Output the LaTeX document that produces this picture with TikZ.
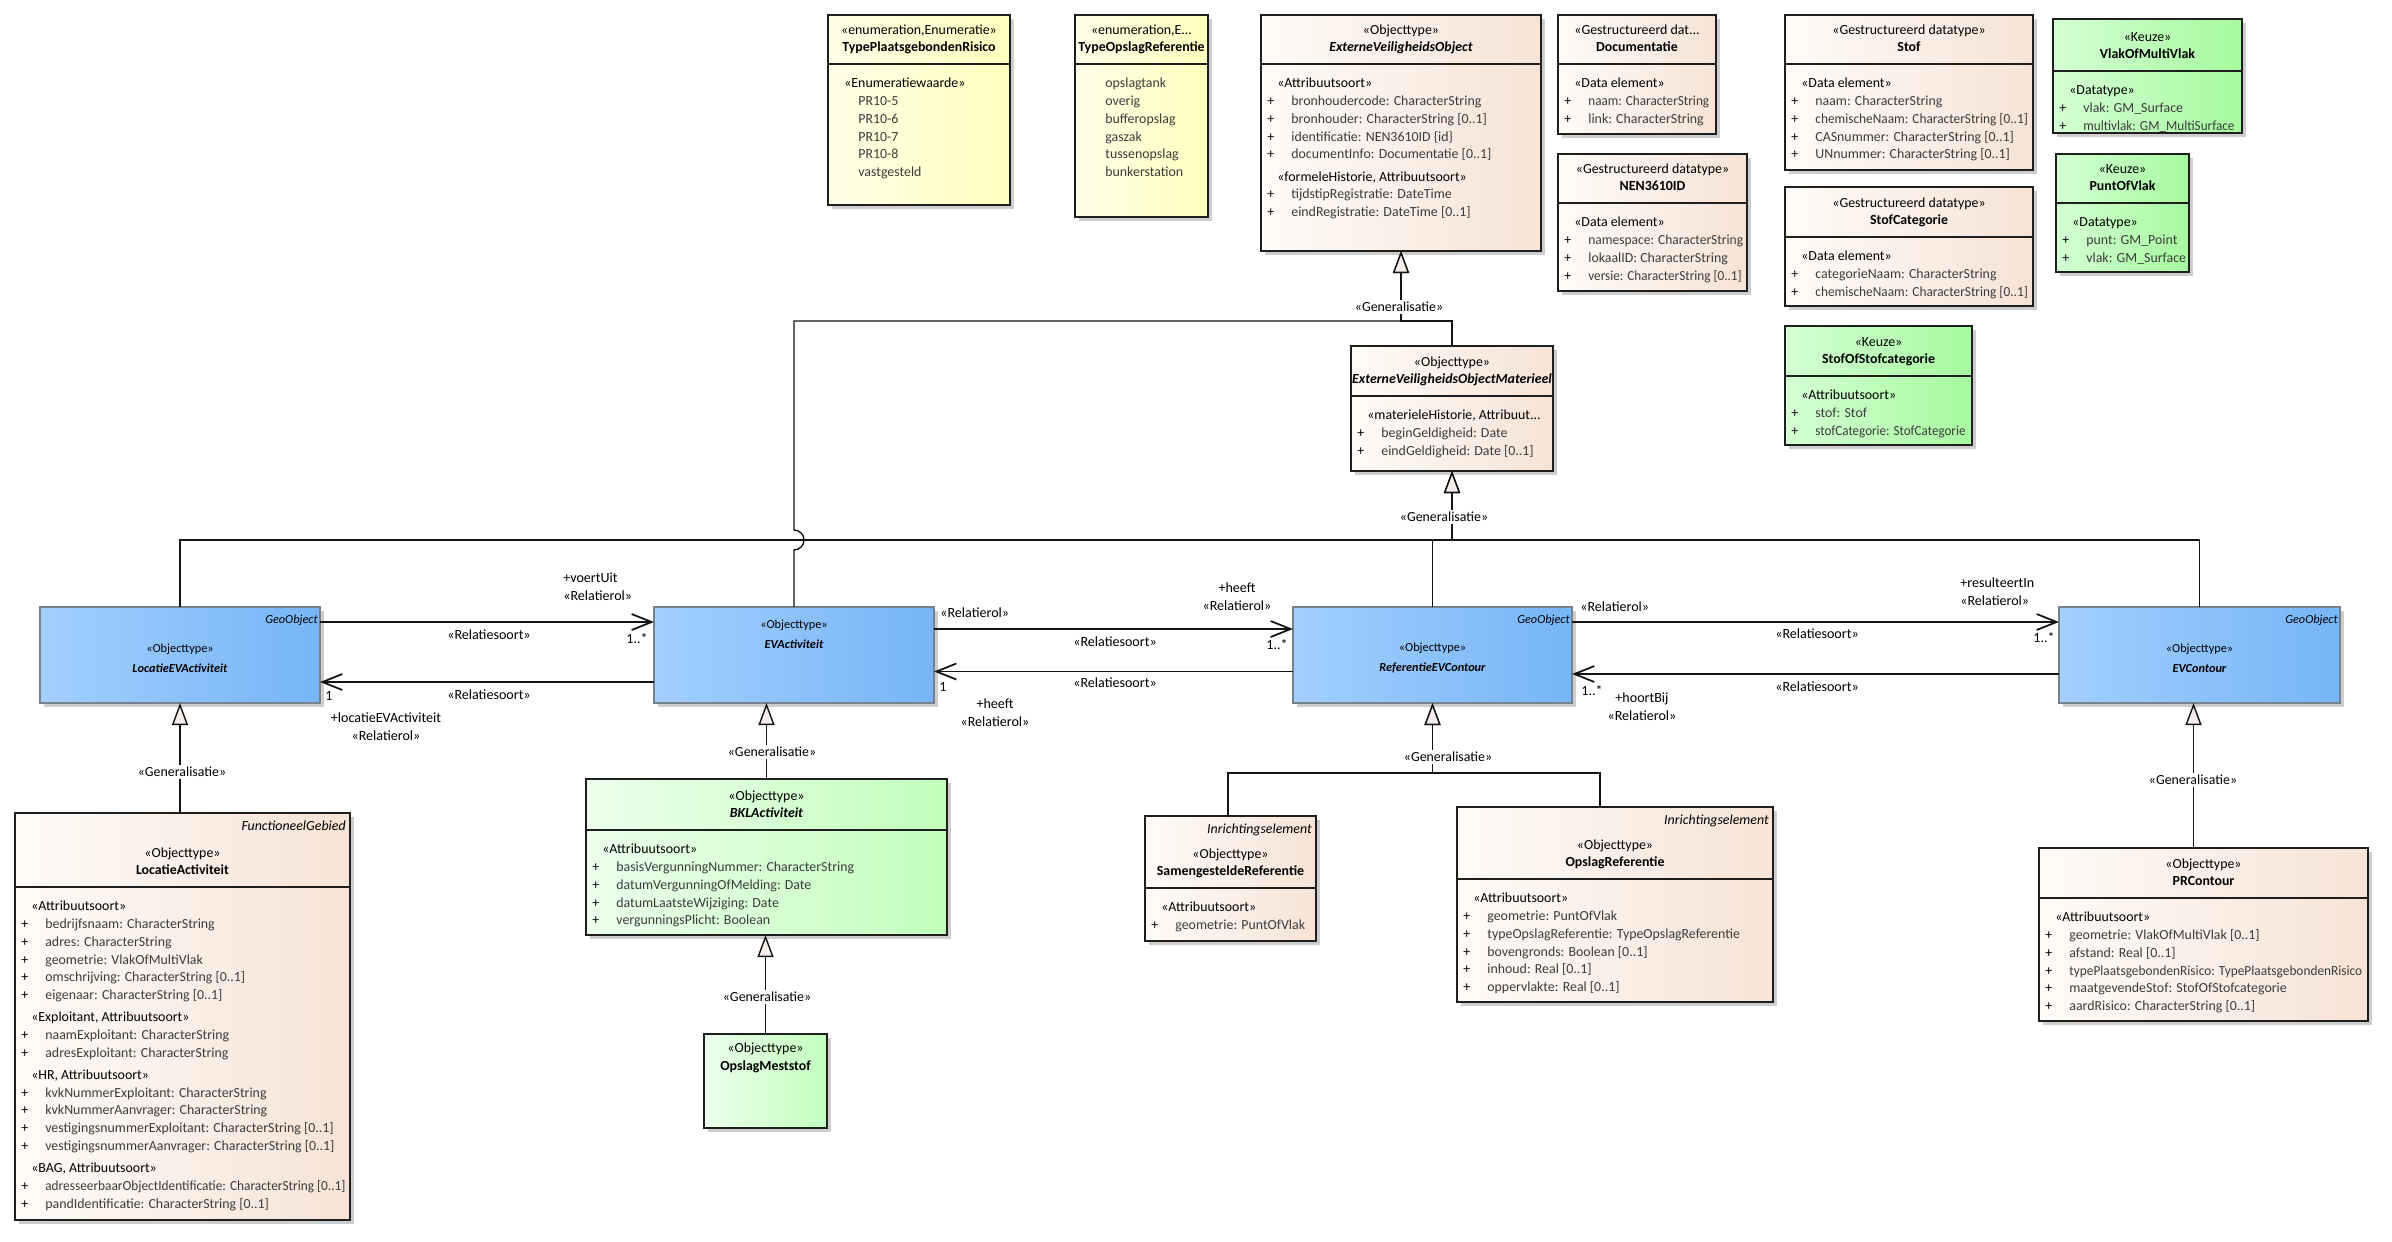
\documentclass[tikz,border=0pt]{standalone}
\usepackage{fontspec}
\usepackage{graphicx}
\setmainfont{Carlito}
\usetikzlibrary{arrows.meta,shadows}

\definecolor{beigeL}{RGB}{254,251,248}
\definecolor{beigeR}{RGB}{246,227,213}
\definecolor{yellowL}{RGB}{255,255,232}
\definecolor{yellowR}{RGB}{255,255,190}
\definecolor{greenL}{RGB}{236,255,236}
\definecolor{greenR}{RGB}{194,255,188}
\definecolor{keuzeL}{RGB}{212,255,212}
\definecolor{keuzeR}{RGB}{166,250,158}
\definecolor{blueL}{RGB}{162,207,255}
\definecolor{blueR}{RGB}{118,181,247}
\definecolor{bluedraw}{RGB}{120,130,140}
\definecolor{boxline}{RGB}{30,30,30}
\definecolor{linecol}{RGB}{20,20,20}
\definecolor{shadowgray}{RGB}{205,205,205}
\definecolor{genfill}{RGB}{246,238,236}
\definecolor{attrgray}{RGB}{60,60,60}

\tikzset{
  classbox/.style={draw=boxline, line width=0.8pt, inner sep=0pt, outer sep=0pt,
    drop shadow={shadow xshift=0.08cm, shadow yshift=-0.08cm, fill=shadowgray, opacity=1}},
  beige/.style={left color=beigeL, right color=beigeR},
  enumfill/.style={left color=yellowL, right color=yellowR},
  greenfill/.style={left color=greenL, right color=greenR},
  keuzefill/.style={left color=keuzeL, right color=keuzeR},
  bluefill/.style={left color=blueL, right color=blueR, draw=bluedraw},
  divline/.style={draw=boxline, line width=0.8pt},
  headtext/.style={font=\fontsize{7.9}{10.1}\selectfont, align=center, inner sep=0pt},
  bodytext/.style={font=\fontsize{7.9}{10.1}\selectfont, align=left, inner sep=0pt},
  bluetext/.style={font=\fontsize{7}{11.4}\selectfont, align=center, inner sep=0pt},
  tagtext/.style={font=\fontsize{7.9}{10.1}\selectfont\itshape, inner sep=0pt, anchor=north east},
  geotag/.style={font=\fontsize{7}{9}\selectfont\itshape, inner sep=0pt, anchor=north east},
  rellabel/.style={font=\fontsize{8}{10.2}\selectfont, inner sep=0pt},
  genlabel/.style={font=\fontsize{7.9}{10.1}\selectfont, fill=white, inner sep=1pt},
  gen/.style={draw=linecol, line width=0.8pt,
    -{Triangle[length=0.44cm, width=0.32cm, fill=genfill]}},
  assoc/.style={draw=linecol, line width=1pt,
    -{Straight Barb[length=0.4cm, width=0.32cm]}},
}

% one class: name, fill, left, top, right, bottom, divider, header, body
\newcommand{\umlclass}[9]{%
  \node[classbox, #2, minimum width={(#5-#3)*0.02cm}, minimum height={(#6-#4)*0.02cm}]
    (#1) at ({(#3+#5)/2},{(#4+#6)/2}) {};
  \draw[divline] (#3,#7) -- (#5,#7);
  \node[headtext, anchor=south] (#1-head) at ({(#3+#5)/2},{#7-6.5}) {#8\strut};
  \node[bodytext, anchor=north west] (#1-body) at (#3,{#7+11}) {\strut#9};
}
% blue objecttype box: name, left, top, right, bottom, text y, class name
\newcommand{\bluebox}[7]{%
  \node[classbox, bluefill, minimum width={(#4-#2)*0.02cm}, minimum height={(#5-#3)*0.02cm}]
    (#1) at ({(#2+#4)/2},{(#3+#5)/2}) {};
  \node[bluetext] (#1-head) at ({(#2+#4)/2},#6) {\strut«Objecttype»\\\textbf{\textit{#7}}\strut};
}
\newcommand{\ustereo}[1]{\hspace*{0.32cm}#1}
\newcommand{\uattr}[1]{\makebox[0.6cm][l]{\hspace{0.12cm}+}{\color{attrgray}#1}}
\newcommand{\uval}[1]{\hspace*{0.6cm}{\color{attrgray}#1}}
\newcommand{\usqz}[2]{\scalebox{#1}[1]{#2}}

\begin{document}
\begin{tikzpicture}[x=0.02cm, y=-0.02cm]
\fill[white] (0,0) rectangle (2392,1241);
\useasboundingbox (0,0) rectangle (2392,1241);

% datatypes and enumerations
\umlclass{tpr}{enumfill}{828}{15}{1010}{205}{64}
  {«enumeration,Enumeratie»\\\textbf{TypePlaatsgebondenRisico}}
  {\ustereo{«Enumeratiewaarde»}\\\uval{PR10-5}\\\uval{PR10-6}\\\uval{PR10-7}\\\uval{PR10-8}\\\uval{vastgesteld}}
\umlclass{tor}{enumfill}{1075}{15}{1208}{217}{64}
  {«enumeration,E...\\\textbf{TypeOpslagReferentie}}
  {\uval{opslagtank}\\\uval{overig}\\\uval{bufferopslag}\\\uval{gaszak}\\\uval{tussenopslag}\\\uval{bunkerstation}}
\umlclass{evo}{beige}{1261}{15}{1541}{251}{64}
  {«Objecttype»\\\textbf{\textit{ExterneVeiligheidsObject}}}
  {\ustereo{«Attribuutsoort»}\\\uattr{bronhoudercode: CharacterString}\\\uattr{bronhouder: CharacterString [0..1]}\\
   \uattr{identificatie: NEN3610ID \{id\}}\\\uattr{documentInfo: Documentatie [0..1]}\\[0.09cm]
   \ustereo{«formeleHistorie, Attribuutsoort»}\\\uattr{tijdstipRegistratie: DateTime}\\\uattr{eindRegistratie: DateTime [0..1]}}
\umlclass{doc}{beige}{1558}{15}{1716}{134}{64}
  {«Gestructureerd dat...\\\textbf{Documentatie}}
  {\ustereo{«Data element»}\\\uattr{\usqz{0.95}{naam: CharacterString}}\\\uattr{link: CharacterString}}
\umlclass{nen}{beige}{1558}{154}{1747}{291}{203}
  {«Gestructureerd datatype»\\\textbf{NEN3610ID}}
  {\ustereo{«Data element»}\\\uattr{\usqz{0.97}{namespace: CharacterString}}\\\uattr{lokaalID: CharacterString}\\
   \uattr{\usqz{0.95}{versie: CharacterString [0..1]}}}
\umlclass{stof}{beige}{1785}{15}{2033}{170}{64}
  {«Gestructureerd datatype»\\\textbf{Stof}}
  {\ustereo{«Data element»}\\\uattr{naam: CharacterString}\\\uattr{\usqz{0.96}{chemischeNaam: CharacterString [0..1]}}\\
   \uattr{CASnummer: CharacterString [0..1]}\\\uattr{UNnummer: CharacterString [0..1]}}
\umlclass{stofcat}{beige}{1785}{187}{2033}{306}{237}
  {«Gestructureerd datatype»\\\textbf{StofCategorie}}
  {\ustereo{«Data element»}\\\uattr{categorieNaam: CharacterString}\\\uattr{\usqz{0.96}{chemischeNaam: CharacterString [0..1]}}}
\umlclass{stofof}{keuzefill}{1785}{326}{1972}{445}{376}
  {«Keuze»\\\textbf{StofOfStofcategorie}}
  {\ustereo{«Attribuutsoort»}\\\uattr{stof: Stof}\\\uattr{\usqz{0.94}{stofCategorie: StofCategorie}}}
\umlclass{vlak}{keuzefill}{2053}{19}{2242}{133}{71}
  {«Keuze»\\\textbf{VlakOfMultiVlak}}
  {\ustereo{«Datatype»}\\\uattr{vlak: GM\_Surface}\\\uattr{\usqz{0.95}{multivlak: GM\_MultiSurface}}}
\umlclass{punt}{keuzefill}{2056}{154}{2189}{272}{203}
  {«Keuze»\\\textbf{PuntOfVlak}}
  {\ustereo{«Datatype»}\\\uattr{punt: GM\_Point}\\\uattr{vlak: GM\_Surface}}

% objecttypes
\umlclass{evom}{beige}{1351}{346}{1553}{471}{396}
  {«Objecttype»\\\textbf{\textit{ExterneVeiligheidsObjectMaterieel}}}
  {\ustereo{«materieleHistorie, Attribuut...}\\\uattr{beginGeldigheid: Date}\\\uattr{eindGeldigheid: Date [0..1]}}
\bluebox{levA}{40}{607}{320}{703}{658}{LocatieEVActiviteit}
\bluebox{eva}{654}{607}{934}{703}{634.5}{EVActiviteit}
\bluebox{rec}{1293}{607}{1572}{703}{657.5}{ReferentieEVContour}
\bluebox{evc}{2059}{607}{2340}{703}{658.5}{EVContour}
\node[geotag] (levA-tag) at ([xshift=-0.04cm,yshift=-0.16cm]levA.north east) {GeoObject};
\node[geotag] (rec-tag) at ([xshift=-0.04cm,yshift=-0.16cm]rec.north east) {GeoObject};
\node[geotag] (evc-tag) at ([xshift=-0.04cm,yshift=-0.16cm]evc.north east) {GeoObject};

\umlclass{la}{beige}{15}{813}{350}{1220}{887}
  {«Objecttype»\\\textbf{LocatieActiviteit}}
  {\ustereo{«Attribuutsoort»}\\\uattr{bedrijfsnaam: CharacterString}\\\uattr{adres: CharacterString}\\
   \uattr{geometrie: VlakOfMultiVlak}\\\uattr{omschrijving: CharacterString [0..1]}\\\uattr{eigenaar: CharacterString [0..1]}\\[0.09cm]
   \ustereo{«Exploitant, Attribuutsoort»}\\\uattr{naamExploitant: CharacterString}\\\uattr{adresExploitant: CharacterString}\\[0.09cm]
   \ustereo{«HR, Attribuutsoort»}\\\uattr{kvkNummerExploitant: CharacterString}\\\uattr{kvkNummerAanvrager: CharacterString}\\
   \uattr{vestigingsnummerExploitant: CharacterString [0..1]}\\\uattr{vestigingsnummerAanvrager: CharacterString [0..1]}\\[0.09cm]
   \ustereo{«BAG, Attribuutsoort»}\\\uattr{\usqz{0.96}{adresseerbaarObjectIdentificatie: CharacterString [0..1]}}\\
   \uattr{pandIdentificatie: CharacterString [0..1]}}
\node[tagtext] (la-tag) at ([xshift=-0.08cm,yshift=-0.14cm]la.north east) {FunctioneelGebied};

\umlclass{bkl}{greenfill}{586}{779}{947}{935}{830}
  {«Objecttype»\\\textbf{\textit{BKLActiviteit}}}
  {\ustereo{«Attribuutsoort»}\\\uattr{basisVergunningNummer: CharacterString}\\\uattr{datumVergunningOfMelding: Date}\\
   \uattr{datumLaatsteWijziging: Date}\\\uattr{vergunningsPlicht: Boolean}}
\node[classbox, greenfill, minimum width={123*0.02cm}, minimum height={94*0.02cm}] (om) at (765.5,1081) {};
\node[headtext] (om-head) at (765.5,1058) {\strut«Objecttype»\\\textbf{OpslagMeststof}\strut};

\umlclass{sr}{beige}{1145}{816}{1316}{941}{888}
  {«Objecttype»\\\textbf{SamengesteldeReferentie}}
  {\ustereo{«Attribuutsoort»}\\\uattr{geometrie: PuntOfVlak}}
\node[tagtext] (sr-tag) at ([xshift=-0.08cm,yshift=-0.14cm]sr.north east) {Inrichtingselement};
\umlclass{opref}{beige}{1457}{807}{1773}{1002}{879}
  {«Objecttype»\\\textbf{OpslagReferentie}}
  {\ustereo{«Attribuutsoort»}\\\uattr{geometrie: PuntOfVlak}\\\uattr{typeOpslagReferentie: TypeOpslagReferentie}\\
   \uattr{bovengronds: Boolean [0..1]}\\\uattr{inhoud: Real [0..1]}\\\uattr{oppervlakte: Real [0..1]}}
\node[tagtext] (opref-tag) at ([xshift=-0.08cm,yshift=-0.14cm]opref.north east) {Inrichtingselement};
\umlclass{pr}{beige}{2039}{848}{2368}{1021}{898}
  {«Objecttype»\\\textbf{PRContour}}
  {\ustereo{«Attribuutsoort»}\\\uattr{geometrie: VlakOfMultiVlak [0..1]}\\\uattr{afstand: Real [0..1]}\\
   \uattr{\usqz{0.96}{typePlaatsgebondenRisico: TypePlaatsgebondenRisico}}\\\uattr{maatgevendeStof: StofOfStofcategorie}\\
   \uattr{aardRisico: CharacterString [0..1]}}

% generalisaties
\coordinate (evotee) at (1401,321);
\coordinate (evomtee) at (1452,540);
\coordinate (rectee) at (1432.5,773);
\coordinate (prtop) at ([xshift=-0.2cm]pr.north);
\draw[gen] (evom.north) |- (evotee) -- (evo.south);
\draw[gen] (eva.north) -- ++(0,-57) arc[start angle=-90, end angle=90, radius=0.2cm] |- (evotee) -- (evo.south);
\draw[gen] (levA.north) |- (evomtee) -- (evom.south);
\draw[gen] (rec.north) |- (evomtee) -- (evom.south);
\draw[gen] (evc.north) |- (evomtee) -- (evom.south);
\draw[gen] (levA.south |- la.north) -- (levA.south);
\draw[gen] (bkl.north) -- (bkl.north |- eva.south);
\draw[gen] (om.north) -- (om.north |- bkl.south);
\draw[gen] ([xshift=-0.05cm]sr.north) |- (rectee) -- (rec.south);
\draw[gen] ([xshift=-0.3cm]opref.north) |- (rectee) -- (rec.south);
\draw[gen] (prtop) -- (prtop |- evc.south);

\node[genlabel] (g1) at (1399,307) {«Generalisatie»};
\node[genlabel] (g2) at (1444,517) {«Generalisatie»};
\node[genlabel] (g3) at (182,772) {«Generalisatie»};
\node[genlabel] (g4) at (772,752) {«Generalisatie»};
\node[genlabel] (g5) at (767,997) {«Generalisatie»};
\node[genlabel] (g6) at (1448,757) {«Generalisatie»};
\node[genlabel] (g7) at (2193,780) {«Generalisatie»};

% relaties
\draw[assoc] ([yshift=0.66cm]levA.east) -- ([yshift=0.66cm]eva.west);
\draw[assoc] ([yshift=-0.54cm]eva.west) -- ([yshift=-0.54cm]levA.east);
\draw[assoc] ([yshift=0.52cm]eva.east) -- ([yshift=0.52cm]rec.west);
\draw[assoc] ([yshift=-0.33cm]rec.west) -- ([yshift=-0.33cm]eva.east);
\draw[assoc] ([yshift=0.66cm]rec.east) -- ([yshift=0.66cm]evc.west);
\draw[assoc] ([yshift=-0.38cm]evc.west) -- ([yshift=-0.38cm]rec.east);

\node[rellabel] (r1) at (489,635) {«Relatiesoort»};
\node[rellabel] (r1m) at (637,639) {1..*};
\node[rellabel, align=left, anchor=west] (r1r) at (563,587) {+voertUit\\«Relatierol»};
\node[rellabel] (r2) at (489,695) {«Relatiesoort»};
\node[rellabel] (r2m) at (329,696) {1};
\node[rellabel, align=center] (r2r) at (386,727) {+locatieEVActiviteit\\«Relatierol»};
\node[rellabel, anchor=west] (r3s) at (940,613) {«Relatierol»};
\node[rellabel, align=center] (r3r) at (1237,597) {+heeft\\«Relatierol»};
\node[rellabel] (r3) at (1115,642) {«Relatiesoort»};
\node[rellabel] (r3m) at (1277,645) {1..*};
\node[rellabel] (r4) at (1115,683) {«Relatiesoort»};
\node[rellabel] (r4m) at (943,687) {1};
\node[rellabel, align=center] (r4r) at (995,713) {+heeft\\«Relatierol»};
\node[rellabel, anchor=west] (r5s) at (1580,607) {«Relatierol»};
\node[rellabel, align=left, anchor=west] (r5r) at (1960,591.5) {+resulteertIn\\«Relatierol»};
\node[rellabel] (r5) at (1817,634) {«Relatiesoort»};
\node[rellabel] (r5m) at (2044,638) {1..*};
\node[rellabel] (r6) at (1817,687) {«Relatiesoort»};
\node[rellabel] (r6m) at (1592,691) {1..*};
\node[rellabel, align=center] (r6r) at (1642,707) {+hoortBij\\«Relatierol»};
\end{tikzpicture}
\end{document}
